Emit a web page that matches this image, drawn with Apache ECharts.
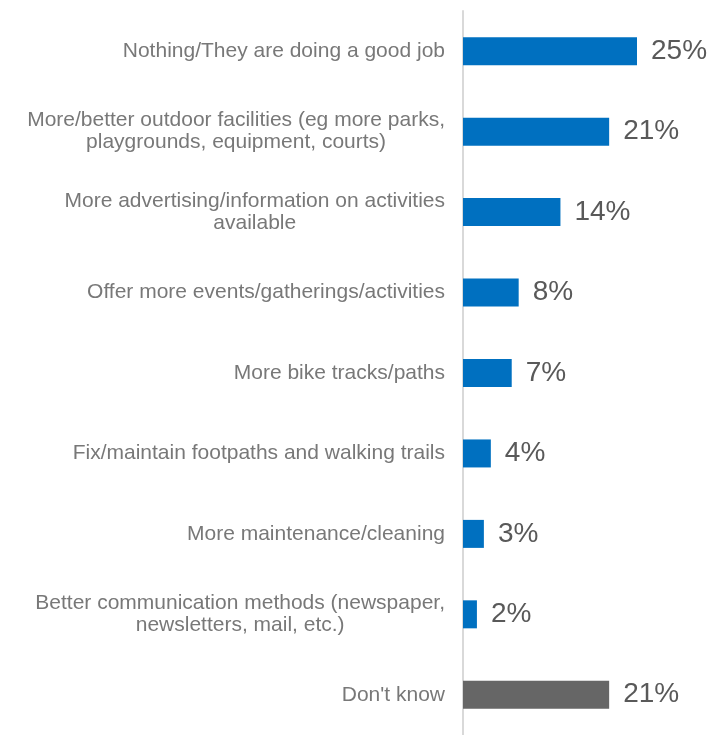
<!DOCTYPE html>
<html>
<head>
<meta charset="utf-8">
<script src="https://cdn.jsdelivr.net/npm/echarts@6/dist/echarts.min.js"></script>
<style>html,body{margin:0;padding:0;background:#fff}#c{width:721px;height:735px}</style>
</head>
<body>
<div id="c"></div>
<script>
const categories = [
  "Nothing/They are doing a good job",
  "More/better outdoor facilities (eg more parks,\nplaygrounds, equipment, courts)",
  "More advertising/information on activities\navailable",
  "Offer more events/gatherings/activities",
  "More bike tracks/paths",
  "Fix/maintain footpaths and walking trails",
  "More maintenance/cleaning",
  "Better communication methods (newspaper,\nnewsletters, mail, etc.)",
  "Don't know"
];
const values = [25, 21, 14, 8, 7, 4, 3, 2, 21];
const barColors = ["#0070C0","#0070C0","#0070C0","#0070C0","#0070C0","#0070C0","#0070C0","#0070C0","#666666"];

const FONT = 'Liberation Sans, Arial, sans-serif';
const chart = echarts.init(document.getElementById('c'), null, {renderer:'canvas'});
chart.setOption({
  animation: false,
  grid: {left: 463, right: 84, top: 11, bottom: -2},
  xAxis: {type:'value', min:0, max:25, show:false},
  yAxis: {
    type:'category', inverse:true, data: categories,
    axisLine:{show:true, lineStyle:{color:'#d9d9d9', width:2}},
    axisTick:{show:false},
    axisLabel:{
      margin: 18, fontFamily:FONT, fontSize:21, color:'#787878',
      lineHeight: 22,
      formatter: function(v){ return v.split('\n').map(s => '{c|' + s + '}').join('\n'); },
      rich: {c:{align:'center', fontFamily:FONT, fontSize:21, color:'#787878', lineHeight:22}}
    }
  },
  series: [{
    type:'bar', barWidth: 28,
    data: values.map((v,i)=>({value:v, itemStyle:{color:barColors[i]}})),
    label:{show:true, position:'right', distance:14, formatter:'{c}%',
      fontFamily:FONT, fontSize:28, color:'#595959'}
  }]
});
</script>
</body>
</html>
